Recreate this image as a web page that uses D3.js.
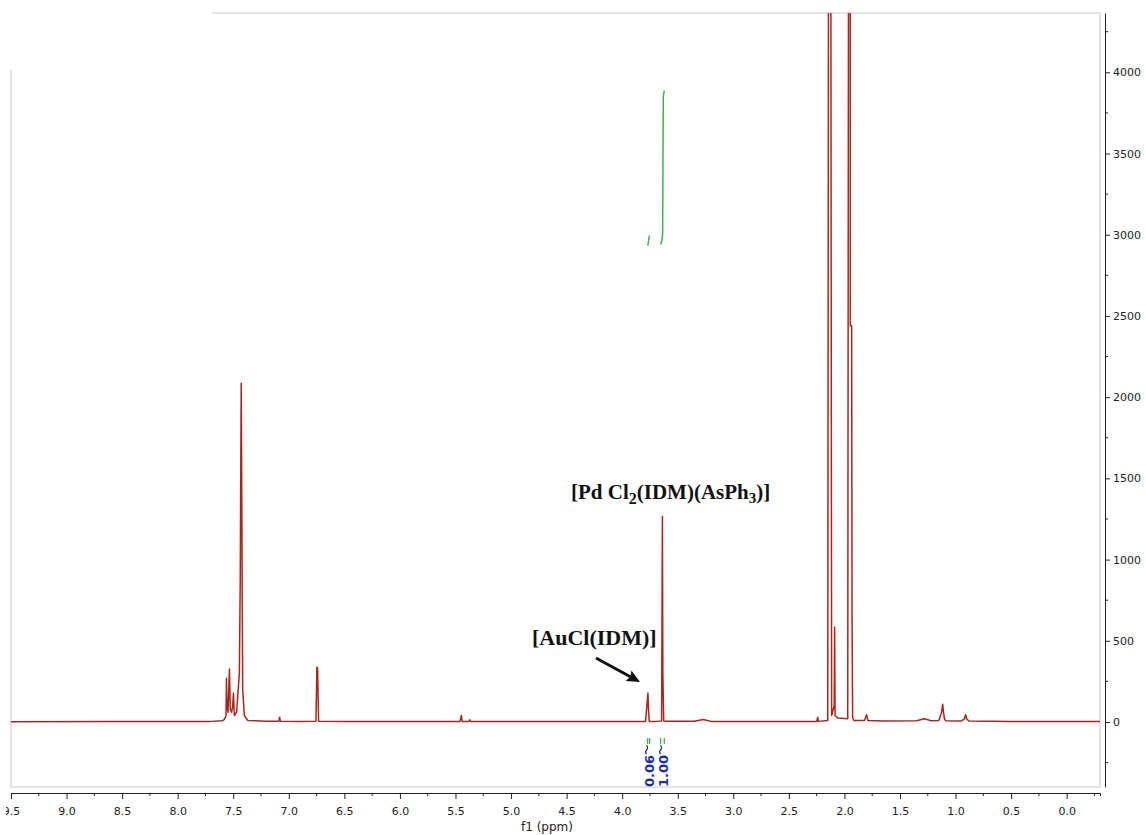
<!DOCTYPE html>
<html>
<head>
<meta charset="utf-8">
<script src="https://cdn.jsdelivr.net/npm/d3@7"></script>
<style>
  body { margin: 0; background: #fff; }
  svg { display: block; }
  .tick text { font-family: "DejaVu Sans", sans-serif; font-size: 11px; fill: #222; }
</style>
</head>
<body>
<script>
// spectrum: chemical shift (ppm) and intensity
const shift = [9.50, 8.60, 8.00, 7.70, 7.60, 7.58, 7.565, 7.561, 7.556, 7.547, 7.534, 7.527, 7.515, 7.505, 7.498,
  7.49, 7.47, 7.445, 7.437, 7.432, 7.428, 7.422, 7.415, 7.40, 7.37, 7.20, 7.09, 7.083, 7.076, 6.90, 6.756, 6.747,
  6.741, 6.732, 6.50, 6.00, 5.46, 5.447, 5.44, 5.38, 5.372, 5.365, 4.50, 4.00, 3.79, 3.768, 3.762, 3.756, 3.70,
  3.645, 3.638, 3.634, 3.626, 3.60, 3.35, 3.27, 3.20, 2.60, 2.25, 2.24, 2.235, 2.15, 2.137, 2.133, 2.129, 2.115,
  2.092, 2.088, 2.084, 2.06, 1.97, 1.957, 1.952, 1.947, 1.935, 1.931, 1.926, 1.915, 1.82, 1.80, 1.79, 1.65, 1.35,
  1.28, 1.22, 1.15, 1.125, 1.116, 1.108, 1.10, 1.09, 0.95, 0.92, 0.909, 0.90, 0.88, 0.50, 0.00, -0.30];
const intensity = [2, 3, 4, 4, 8, 15, 40, 270, 100, 60, 326, 80, 60, 100, 178,
  40, 60, 300, 873, 1600, 2085, 1200, 200, 40, 10, 5, 5, 30, 5, 4, 5, 338,
  330, 5, 3, 3, 4, 40, 4, 3, 14, 3, 3, 3, 4, 178, 60, 4, 4,
  6, 1267, 300, 6, 5, 5, 16, 4, 4, 4, 30, 4, 10, 9000, 20000, 9000, 40,
  100, 585, 40, 25, 20, 9000, 20000, 2440, 2440, 600, 30, 10, 10, 45, 10, 6, 8,
  20, 8, 10, 60, 110, 60, 20, 8, 6, 20, 45, 20, 6, 4, 4, 3];

// integral curves (ppm, height on the intensity scale) and their values
const integralLabels = ["0.06", "1.00"];
const integralShift = [[3.771, 3.766, 3.760, 3.753], [3.654, 3.642, 3.636, 3.630, 3.621]];
const integralHeight = [[2934, 2945, 2975, 2995], [2940, 2965, 3000, 3850, 3887]];

const xTicks = d3.range(0, 19.5).map(i => 9.5 - i * 0.5);
const xMinor = d3.range(0, 19).map(i => 9.25 - i * 0.5).concat([-0.25]);
const yTicks = [0, 500, 1000, 1500, 2000, 2500, 3000, 3500, 4000];
const yMinor = [-250, 250, 750, 1250, 1750, 2250, 2750, 3250, 3750, 4250];

const W = 1146, H = 835;
const pLeft = 11, pRight = 1100, pTop = 13, pBottom = 787;

const svg = d3.select("body").append("svg")
  .attr("width", W)
  .attr("height", H);

const x = d3.scaleLinear().domain([9.5, -0.3]).range([pLeft, pRight]);
const y = d3.scaleLinear().domain([-400, 4365]).range([pBottom, pTop]);

// frame (partly hidden at the top-left like the screenshot)
svg.append("path")
  .attr("d", `M212,${pTop}H${pRight}V${pBottom}H${pLeft}V70`)
  .attr("stroke", "#e4e4e4").attr("stroke-width", 2).attr("fill", "none");

svg.append("clipPath").attr("id", "plot")
  .append("rect").attr("x", pLeft).attr("y", pTop).attr("width", pRight - pLeft).attr("height", pBottom - pTop);
// the screenshot is cut a few pixels left of the frame
svg.append("clipPath").attr("id", "cut")
  .append("rect").attr("x", 6).attr("y", 0).attr("width", W).attr("height", H);

const line = d3.line().x(d => x(d[0])).y(d => y(d[1]));

svg.append("path")
  .datum(shift.map((s, i) => [s, intensity[i]]))
  .attr("clip-path", "url(#plot)")
  .attr("fill", "none")
  .attr("stroke", "#a8261c")
  .attr("stroke-width", 1.5)
  .attr("stroke-linejoin", "round")
  .attr("d", line);

// integrals
integralShift.forEach((s, k) => {
  svg.append("path")
    .datum(s.map((v, i) => [v, integralHeight[k][i]]))
    .attr("fill", "none")
    .attr("stroke", "#45b045")
    .attr("stroke-width", 1.5)
    .attr("d", line);

  const cx = x(d3.mean(s));
  svg.append("path")
    .attr("d", `M${x(s[0])},738V744M${x(s[s.length - 1])},738V744`)
    .attr("stroke", "#45b045").attr("stroke-width", 1.3);
  svg.append("path")
    .attr("d", `M${cx - 2},745 q2,3 0,5 q-2,2 0,4`)
    .attr("fill", "none").attr("stroke", "#1c2fa0").attr("stroke-width", 1.2);
  svg.append("text")
    .attr("transform", `translate(${cx + 5},${755}) rotate(-90)`)
    .attr("text-anchor", "end")
    .attr("font-family", "DejaVu Sans, sans-serif")
    .attr("font-weight", "bold")
    .attr("font-size", 13)
    .attr("fill", "#1c2fa0")
    .text(integralLabels[k]);
});

// bottom axis
const xAxis = svg.append("g")
  .attr("clip-path", "url(#cut)")
  .append("g")
  .attr("transform", "translate(0,793)")
  .call(d3.axisBottom(x).tickValues(xTicks).tickFormat(d3.format(".1f")).tickSize(6).tickSizeOuter(3).tickPadding(8));
xAxis.select(".domain").attr("stroke", "#222");
xAxis.selectAll(".tick line").attr("stroke", "#222");
xAxis.selectAll(".minor").data(xMinor).enter().append("line")
  .attr("x1", d => x(d)).attr("x2", d => x(d))
  .attr("y1", 0).attr("y2", 3).attr("stroke", "#222");

svg.append("text")
  .attr("x", 547).attr("y", 831)
  .attr("text-anchor", "middle")
  .attr("font-family", "DejaVu Sans, sans-serif")
  .attr("font-size", 12)
  .attr("fill", "#222")
  .text("f1 (ppm)");

// right axis
const yAxis = svg.append("g")
  .attr("transform", "translate(1105,0)")
  .call(d3.axisRight(y).tickValues(yTicks).tickFormat(d3.format("d")).tickSize(5).tickSizeOuter(0).tickPadding(3));
yAxis.select(".domain").attr("stroke", "#222");
yAxis.selectAll(".tick line").attr("stroke", "#222");
yAxis.selectAll(".minor").data(yMinor).enter().append("line")
  .attr("y1", d => y(d)).attr("y2", d => y(d))
  .attr("x1", 0).attr("x2", 3).attr("stroke", "#222");

// annotations
const serif = "Liberation Serif, Times New Roman, serif";
const pd = svg.append("text")
  .attr("x", 571).attr("y", 499)
  .attr("font-family", serif).attr("font-weight", "bold").attr("font-size", 21).attr("fill", "#111");
pd.append("tspan").text("[Pd Cl");
pd.append("tspan").attr("dy", 5).attr("font-size", 16).text("2");
pd.append("tspan").attr("dy", -5).text("(IDM)(AsPh");
pd.append("tspan").attr("dy", 4).attr("font-size", 15).text("3");
pd.append("tspan").attr("dy", -4).text(")]");

svg.append("text")
  .attr("x", 532).attr("y", 645)
  .attr("font-family", serif).attr("font-weight", "bold").attr("font-size", 22).attr("fill", "#111")
  .text("[AuCl(IDM)]");

const ax1 = 596, ay1 = 658, ax2 = 640, ay2 = 682;
const ang = Math.atan2(ay2 - ay1, ax2 - ax1);
svg.append("line")
  .attr("x1", ax1).attr("y1", ay1)
  .attr("x2", ax2 - 10 * Math.cos(ang)).attr("y2", ay2 - 10 * Math.sin(ang))
  .attr("stroke", "#111").attr("stroke-width", 3);
svg.append("path")
  .attr("transform", `translate(${ax2},${ay2}) rotate(${ang * 180 / Math.PI})`)
  .attr("d", "M0,0L-13,-6L-11,0L-13,6Z")
  .attr("fill", "#111");
</script>
</body>
</html>
